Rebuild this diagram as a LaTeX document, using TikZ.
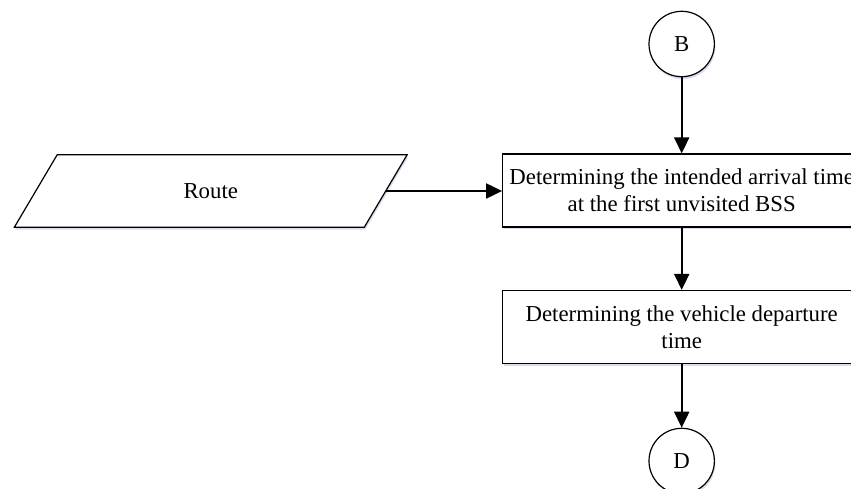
\documentclass[tikz,border=0pt]{standalone}
\usepackage{fontspec}
\setmainfont{Liberation Serif}
\usetikzlibrary{arrows.meta, positioning, shapes.geometric, shadows}

\begin{document}
\begin{tikzpicture}[x=0.5pt, y=0.5pt,
    boxshadow/.style={drop shadow={shadow xshift=0.5pt, shadow yshift=-1.2pt, fill=blue!40!gray, opacity=0.2}},
    flowbox/.style={draw, line width=0.6pt, fill=white, boxshadow, minimum width=179pt, minimum height=36.5pt,
        inner sep=0pt, align=center, font=\fontsize{11.4}{13.5}\selectfont},
    iobox/.style={trapezium, trapezium left angle=63.4, trapezium right angle=116.6, trapezium stretches=true,
        draw, line width=0.6pt, fill=white, boxshadow, minimum width=196.5pt, minimum height=36.2pt,
        inner sep=0pt, font=\fontsize{11.4}{13.5}\selectfont},
    connector/.style={circle, draw, line width=0.6pt, fill=white, boxshadow, minimum size=32.7pt,
        inner sep=0pt, font=\fontsize{11.4}{13.5}\selectfont},
    flowarrow/.style={line width=1pt, -{Triangle[length=8pt, width=7.5pt]}}
]
    % Page frame (the boxes run past the right and bottom edges)
    \path[use as bounding box, clip] (0,0) rectangle (851,488);

    % Connectors and steps
    \node[connector] (b) at (681.7,444) {B};
    \node[flowbox] (arrive) at (681.7,297.5) {Determining the intended arrival time\\at the first unvisited BSS};
    \node[flowbox] (depart) at (681.7,161) {Determining the vehicle departure\\time};
    \node[connector] (d) at (681.7,27) {D};

    % Input
    \node[iobox] (route) at (210.75,297) {Route};

    % Flow
    \draw[flowarrow] (b) -- (arrive);
    \draw[flowarrow] (arrive) -- (depart);
    \draw[flowarrow] (depart) -- (d);
    \draw[flowarrow] (route.east) -- (route.east -| arrive.west);
\end{tikzpicture}
\end{document}
